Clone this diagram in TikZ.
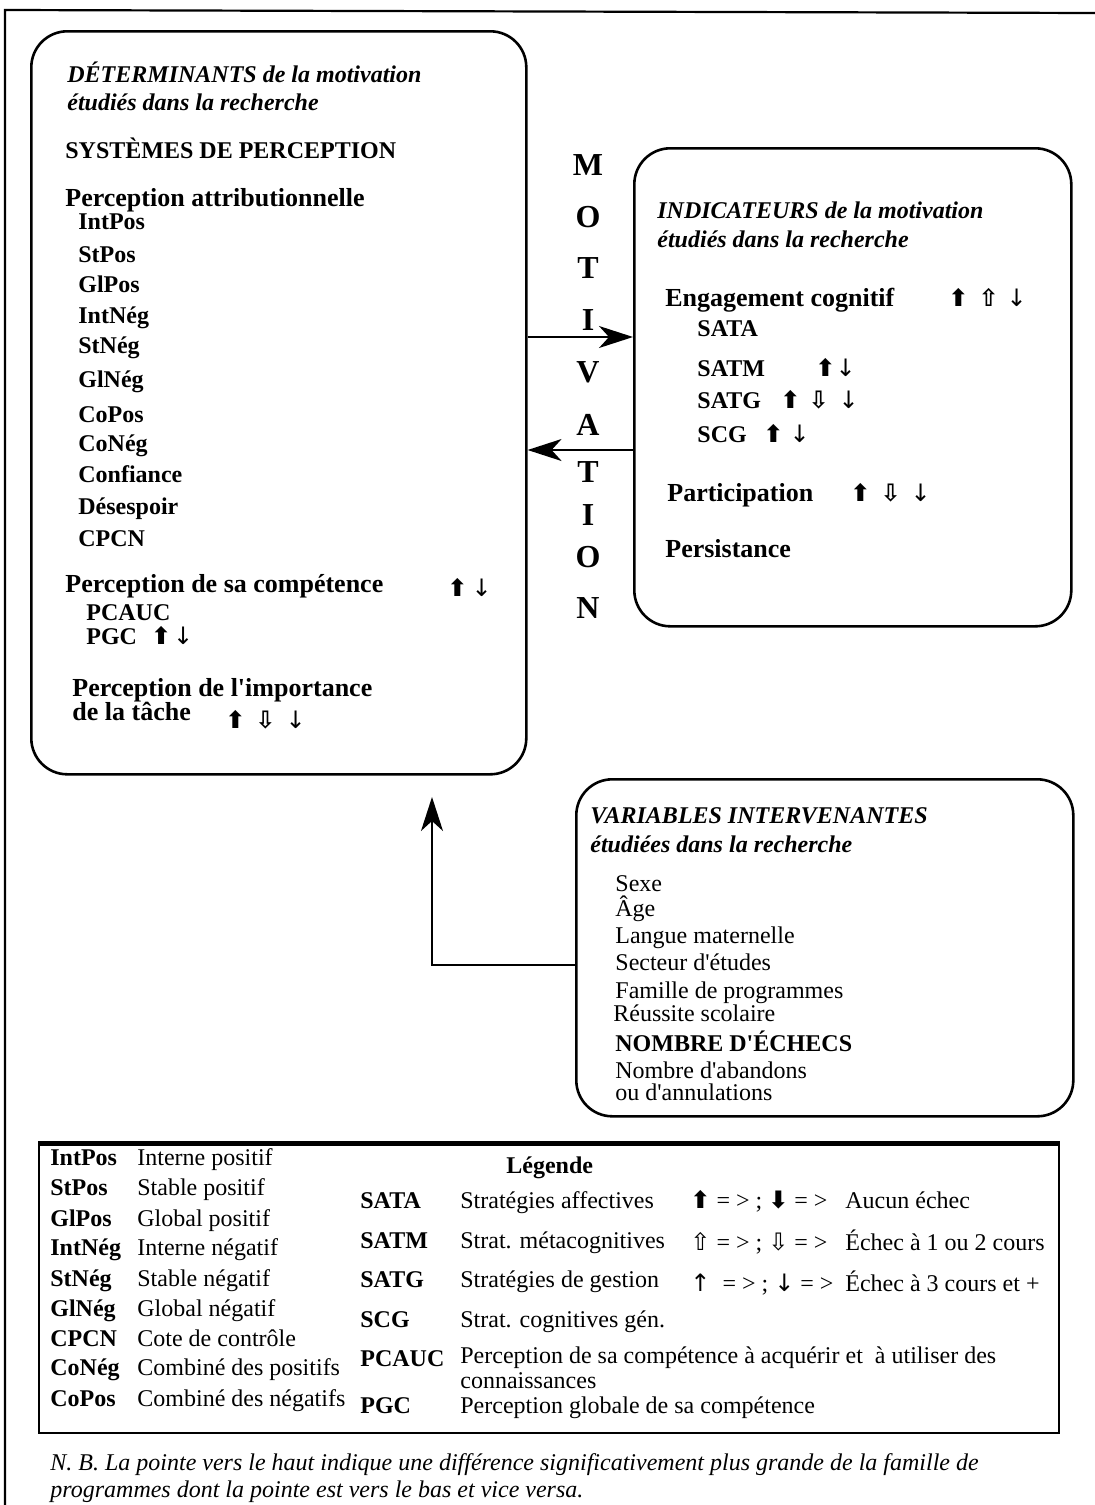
\documentclass[tikz,border=0pt]{standalone}
\usepackage{fontspec}
\setmainfont{Liberation Serif}
\newfontfamily\symfont{DejaVu Sans}
\usetikzlibrary{positioning, calc, arrows.meta}

% little arrow marks used in the boxes and the legend
\newcommand{\fup}{{\symfont\bfseries ⬆}}
\newcommand{\fdown}{{\symfont\bfseries ⬇}}
\newcommand{\hup}{{\symfont ⇧}}
\newcommand{\hdown}{{\symfont ⇩}}
\newcommand{\tup}{{\symfont\mdseries ↑}}
\newcommand{\tdown}{{\symfont\mdseries ↓}}
\newcommand{\gap}[1]{\hspace{#1pt}}

\tikzset{
  panel/.style={draw,line width=1.3pt,rounded corners=18pt,anchor=north west,
    inner sep=0pt},
  txt/.style={anchor=base west,inner sep=0pt,font=\fontsize{12}{14}\selectfont},
  bold/.style={txt,font=\fontsize{12}{14}\selectfont\bfseries},
  head/.style={txt,font=\fontsize{13}{15}\selectfont\bfseries},
  ital/.style={txt,font=\fontsize{12}{14}\selectfont\bfseries\itshape},
  note/.style={txt,font=\fontsize{12}{14}\selectfont\itshape},
  letter/.style={inner sep=0pt,font=\fontsize{16}{16}\selectfont\bfseries},
  arr/.style={-{Stealth[length=17pt,width=11pt,inset=5pt]},line width=0.8pt},
}

\begin{document}
\begin{tikzpicture}[x=0.5pt,y=-0.5pt]
  \useasboundingbox (0,0) rectangle (1095,1505);
  % page frame
  \draw[line width=1.1pt] (5,1505) -- (5,10) -- (1095,13);

  % the four boxes
  \node[panel,minimum width=247.5pt,minimum height=371.5pt] (det) at (30,30) {};
  \node[panel,minimum width=218.5pt,minimum height=239pt] (ind) at (633,147) {};
  \node[panel,minimum width=248.5pt,minimum height=168.5pt] (var) at (575,778) {};
  \node[draw,line width=1.2pt,anchor=north west,inner sep=0pt,
    minimum width=510pt,minimum height=144.5pt] (leg) at (38,1143) {};
  \draw[line width=2.5pt] (leg.north west) -- (leg.north east);

  % determinants
  \node[ital] (dt1) at (67,82) {DÉTERMINANTS de la motivation};
  \node[ital] (dt2) at (67,110) {étudiés dans la recherche};
  \node[bold] (sys) at (65,158) {SYSTÈMES DE PERCEPTION};
  \node[head] (attr) at (65,206) {Perception attributionnelle};
  \foreach \lbl/\y [count=\i] in {IntPos/229, StPos/262, GlPos/292,
      IntNég/323, StNég/353, GlNég/387, CoPos/422, CoNég/451,
      Confiance/482, Désespoir/514, CPCN/546}
    \node[bold] (at\i) at (78,\y) {\lbl};
  \node[head] (comp) at (65,592) {Perception de sa compétence};
  \node[bold] (compm) at (447,596) {\fup\gap{2}\tdown};
  \node[bold] (pcauc) at (86,620) {PCAUC};
  \node[bold] (pgc) at (86,644) {PGC\gap{7}\fup\gap{1}\tdown};
  \node[head] (imp1) at (72,696) {Perception de l\textquotesingle importance};
  \node[head] (imp2) at (72,720) {de la tâche};
  \node[bold] (impm) at (225,728) {\fup\gap{5}\hdown\gap{5}\tdown};

  % indicators
  \node[ital] (in1) at (657,218) {INDICATEURS de la motivation};
  \node[ital] (in2) at (657,247) {étudiés dans la recherche};
  \node[head] (eng) at (665,306) {Engagement cognitif};
  \node[bold] (engm) at (948,306) {\fup\gap{5}\hup\gap{4}\tdown};
  \node[bold] (sata) at (697,336) {SATA};
  \node[bold] (satm) at (697,376) {SATM};
  \node[bold] (satmm) at (815,376) {\fup\gap{0}\tdown};
  \node[bold] (satg) at (697,408) {SATG};
  \node[bold] (satgm) at (780,408) {\fup\gap{4}\hdown\gap{5}\tdown};
  \node[bold] (scg) at (697,442) {SCG};
  \node[bold] (scgm) at (763,442) {\fup\gap{3}\tdown};
  \node[head] (part) at (667,501) {Participation};
  \node[bold] (partm) at (850,501) {\fup\gap{5}\hdown\gap{5}\tdown};
  \node[head] (pers) at (665,557) {Persistance};

  % MOTIVATION, one letter under the other
  \foreach \c/\y [count=\i] in {M/165, O/217, T/268, I/320, V/372, A/425,
      T/472, I/515, O/557, N/608}
    \node[letter] (mot\i) at (588,\y) {\c};

  % connectors
  \coordinate (yfwd) at (0,337);
  \coordinate (yback) at (0,450);
  \coordinate (yvar) at (0,965);
  \coordinate (tip) at (432,797);
  \draw[arr] (det.east |- yfwd) -- (ind.west |- yfwd);
  \draw[arr] (ind.west |- yback) -- (det.east |- yback);
  \draw[arr] (var.west |- yvar) -| (tip);

  % intervening variables
  \node[ital] (va1) at (590,823) {VARIABLES INTERVENANTES};
  \node[ital] (va2) at (590,852) {étudiées dans la recherche};
  \foreach \lbl/\y [count=\i] in {Sexe/891, Âge/916,
      Langue maternelle/943, Secteur d\textquotesingle études/970,
      Famille de programmes/998}
    \node[txt] (vi\i) at (615,\y) {\lbl};
  \node[txt] (reus) at (613,1021) {Réussite scolaire};
  \node[bold] (ech) at (615,1051) {NOMBRE D\textquotesingle ÉCHECS};
  \node[txt] (ab1) at (615,1078) {Nombre d\textquotesingle abandons};
  \node[txt] (ab2) at (615,1100) {ou d\textquotesingle annulations};

  % legend
  \foreach \a/\d/\y [count=\i] in {IntPos/Interne positif/1165,
      StPos/Stable positif/1195, GlPos/Global positif/1226,
      IntNég/Interne négatif/1255, StNég/Stable négatif/1286,
      GlNég/Global négatif/1316, CPCN/Cote de contrôle/1346,
      CoNég/Combiné des positifs/1375, CoPos/Combiné des négatifs/1406} {
    \node[bold] (ka\i) at (50,\y) {\a};
    \node[txt] (kd\i) at (137,\y) {\d};
  }
  \node[bold] (legt) at (506,1173) {Légende};
  \foreach \a/\d/\y [count=\i] in {SATA/Stratégies affectives/1208,
      SATM/Strat. métacognitives/1248, SATG/Stratégies de gestion/1287,
      SCG/Strat. cognitives gén./1327} {
    \node[bold] (kb\i) at (360,\y) {\a};
    \node[txt] (ke\i) at (460,\y) {\d};
  }
  \node[bold] (kb5) at (360,1366) {PCAUC};
  \node[txt] (ke5) at (460,1363)
    {Perception de sa compétence à acquérir et \ à utiliser des};
  \node[txt] (ke5b) at (460,1388) {connaissances};
  \node[bold] (kb6) at (360,1413) {PGC};
  \node[txt] (ke6) at (460,1413) {Perception globale de sa compétence};
  \node[txt] (ks1) at (690,1208) {\fup{} = > ; \fdown{} = >};
  \node[txt] (kt1) at (845,1208) {Aucun échec};
  \node[txt] (ks2) at (690,1250) {\hup{} = > ; \hdown{} = >};
  \node[txt] (kt2) at (845,1250) {Échec à 1 ou 2 cours};
  \node[txt] (ks3) at (690,1291) {\tup{} \ = > ; \tdown{} = >};
  \node[txt] (kt3) at (845,1291) {Échec à 3 cours et +};

  % note under the legend
  \node[note] (nb1) at (50,1470) {N. B. La pointe vers le haut indique une
    différence significativement plus grande de la famille de};
  \node[note] (nb2) at (50,1497) {programmes dont la pointe est vers le bas et
    vice versa.};
\end{tikzpicture}
\end{document}
